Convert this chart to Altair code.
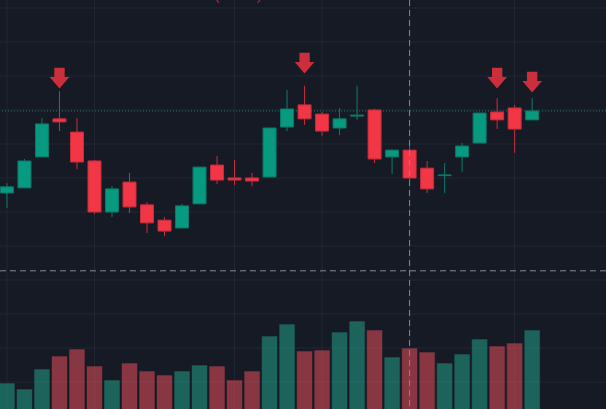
import altair as alt
import pandas as pd

# ---- data (price units; one candle per index) ----
candle_idx = list(range(31))
open_ = [145.6, 147.1, 156.2, 167.4, 163.5, 155.0, 140.0, 148.8, 142.1, 137.6,
         135.3, 142.4, 153.8, 150.0, 150.0, 150.3, 165.0, 171.5, 168.8, 164.7,
         168.2, 170.0, 156.2, 158.2, 152.9, 150.7, 156.2, 160.3, 169.4, 170.6, 167.1]
high = [148.5, 155.6, 167.6, 175.6, 167.6, 155.3, 147.6, 151.5, 142.9, 138.5,
        142.4, 153.2, 156.5, 155.3, 151.5, 164.7, 175.9, 177.1, 169.4, 170.6,
        177.1, 170.3, 158.5, 159.4, 155.0, 154.4, 160.3, 169.1, 173.5, 171.5, 173.5]
low = [141.2, 147.1, 156.2, 163.8, 152.6, 139.4, 138.5, 139.7, 133.8, 132.9,
       135.3, 142.4, 148.2, 147.9, 147.6, 150.3, 163.8, 165.6, 162.4, 162.6,
       167.1, 154.4, 151.2, 149.1, 145.6, 145.6, 151.8, 160.3, 164.4, 157.4, 167.1]
close = [147.4, 155.0, 165.9, 166.5, 154.7, 140.0, 146.8, 141.5, 136.8, 134.4,
         141.8, 153.2, 149.4, 149.4, 149.1, 164.7, 170.3, 167.4, 163.8, 167.4,
         168.5, 155.6, 158.2, 150.0, 146.8, 150.9, 159.4, 169.1, 167.1, 164.4, 169.7]
volume = [5700, 5100, 7100, 8400, 9100, 7400, 6000, 7700, 6900, 6500,
          6900, 7500, 7400, 6000, 6900, 10400, 11600, 8900, 9000, 10800,
          11900, 11000, 8300, 9200, 8800, 7700, 8600, 10100, 9400, 9700, 11000]

# signal arrows (candle index, price level of the arrow centre)
arrow_idx = [3, 17, 28, 30]
arrow_price = [179.4, 183.8, 179.4, 178.2]

# grid / crosshair
grid_prices = [200, 190, 180, 170, 160, 150, 140, 130, 120, 110, 100, 90]
grid_idx = [0, 5, 13, 18, 23, 29]
cross_idx = [23]
cross_price = [122.7]
top_label = ["(1.24%)"]
top_label_idx = [13.2]
top_label_price = [202.45]

# ---- styling ----
BG = "#161a25"
GRID = "#232734"
UP = "#089981"
DOWN = "#f23645"
UP_WICK = "#0a7d6a"
DOWN_WICK = "#c92f3e"
UP_EDGE = "#0b7a68"
DOWN_EDGE = "#c42f3d"
VOL_UP = "#22ab94"
VOL_DOWN = "#f7525f"
ARROW_RED = "#cc2f3c"
CROSS = "#868993"

X_DOMAIN = [-0.112, 33.933]
PRICE_DOMAIN = [82.06, 202.35]
VOL_DOMAIN = [3100, 44000]

ARROW = "M-0.5,-1L0.5,-1L0.5,-0.1L0.95,-0.1L0,1L-0.95,-0.1L-0.5,-0.1Z"

df = pd.DataFrame({"i": candle_idx, "open": open_, "high": high, "low": low,
                   "close": close, "volume": volume})
df["dir"] = ["up" if c >= o else "down" for o, c in zip(open_, close)]
df["body_lo"] = df[["open", "close"]].min(axis=1)
df["body_hi"] = df[["open", "close"]].max(axis=1)

arrows = pd.DataFrame({"i": arrow_idx, "p": arrow_price})
hgrid = pd.DataFrame({"p": grid_prices})
vgrid = pd.DataFrame({"i": grid_idx})
last = pd.DataFrame({"p": [close[-1]]})
cross_v = pd.DataFrame({"i": cross_idx})
cross_h = pd.DataFrame({"p": cross_price})
label = pd.DataFrame({"i": top_label_idx, "p": top_label_price, "t": top_label})


def X():
    return alt.X("i:Q", scale=alt.Scale(domain=X_DOMAIN, nice=False, zero=False), axis=None)


def Y(field):
    return alt.Y(field, type="quantitative",
                 scale=alt.Scale(domain=PRICE_DOMAIN, nice=False, zero=False), axis=None)


def Y2(field):
    return alt.Y2(field)


is_up = "datum.dir == 'up'"

hgrid_l = alt.Chart(hgrid).mark_rule(color=GRID, strokeWidth=1).encode(y=Y("p"))
vgrid_l = alt.Chart(vgrid).mark_rule(color=GRID, strokeWidth=1).encode(x=X())

vol_l = alt.Chart(df).mark_bar(size=16, clip=True, opacity=0.5, strokeWidth=1,
                               stroke=BG, strokeOpacity=0.6).encode(
    x=X(),
    y=alt.Y("volume:Q", scale=alt.Scale(domain=VOL_DOMAIN, nice=False, zero=False), axis=None),
    y2=alt.datum(0),
    color=alt.condition(is_up, alt.value(VOL_UP), alt.value(VOL_DOWN)),
)

wick_l = alt.Chart(df).mark_rule(strokeWidth=1).encode(
    x=X(), y=Y("low"), y2=Y2("high"),
    color=alt.condition(is_up, alt.value(UP_WICK), alt.value(DOWN_WICK)),
)

body_l = alt.Chart(df).mark_bar(size=13, strokeWidth=1).encode(
    x=X(), y=Y("body_lo"), y2=Y2("body_hi"),
    color=alt.condition(is_up, alt.value(UP), alt.value(DOWN)),
    stroke=alt.condition(is_up, alt.value(UP_EDGE), alt.value(DOWN_EDGE)),
)

price_line = alt.Chart(last).mark_rule(color=UP, strokeWidth=1, strokeDash=[1, 2],
                                       opacity=0.75).encode(y=Y("p"))

arrow_l = alt.Chart(arrows).mark_point(shape=ARROW, size=430, filled=True,
                                       color=ARROW_RED, opacity=1, strokeWidth=0).encode(
    x=X(), y=Y("p"))

label_l = alt.Chart(label).mark_text(color="#b02a3c", font="Roboto", fontSize=14,
                                     align="center", baseline="alphabetic").encode(
    x=X(), y=Y("p"), text="t:N")

cross_v_l = alt.Chart(cross_v).mark_rule(color=CROSS, strokeWidth=1, strokeDash=[6, 4]).encode(x=X())
cross_h_l = alt.Chart(cross_h).mark_rule(color=CROSS, strokeWidth=1, strokeDash=[6, 4]).encode(y=Y("p"))

chart = alt.layer(
    hgrid_l, vgrid_l, vol_l, price_line, wick_l, body_l, arrow_l, label_l, cross_v_l, cross_h_l
).resolve_scale(y="independent").properties(
    width=606, height=409, background=BG, padding=0, autosize="none"
).configure_view(strokeWidth=0)

chart.save("out.html", embed_options={"renderer": "svg", "actions": False})
